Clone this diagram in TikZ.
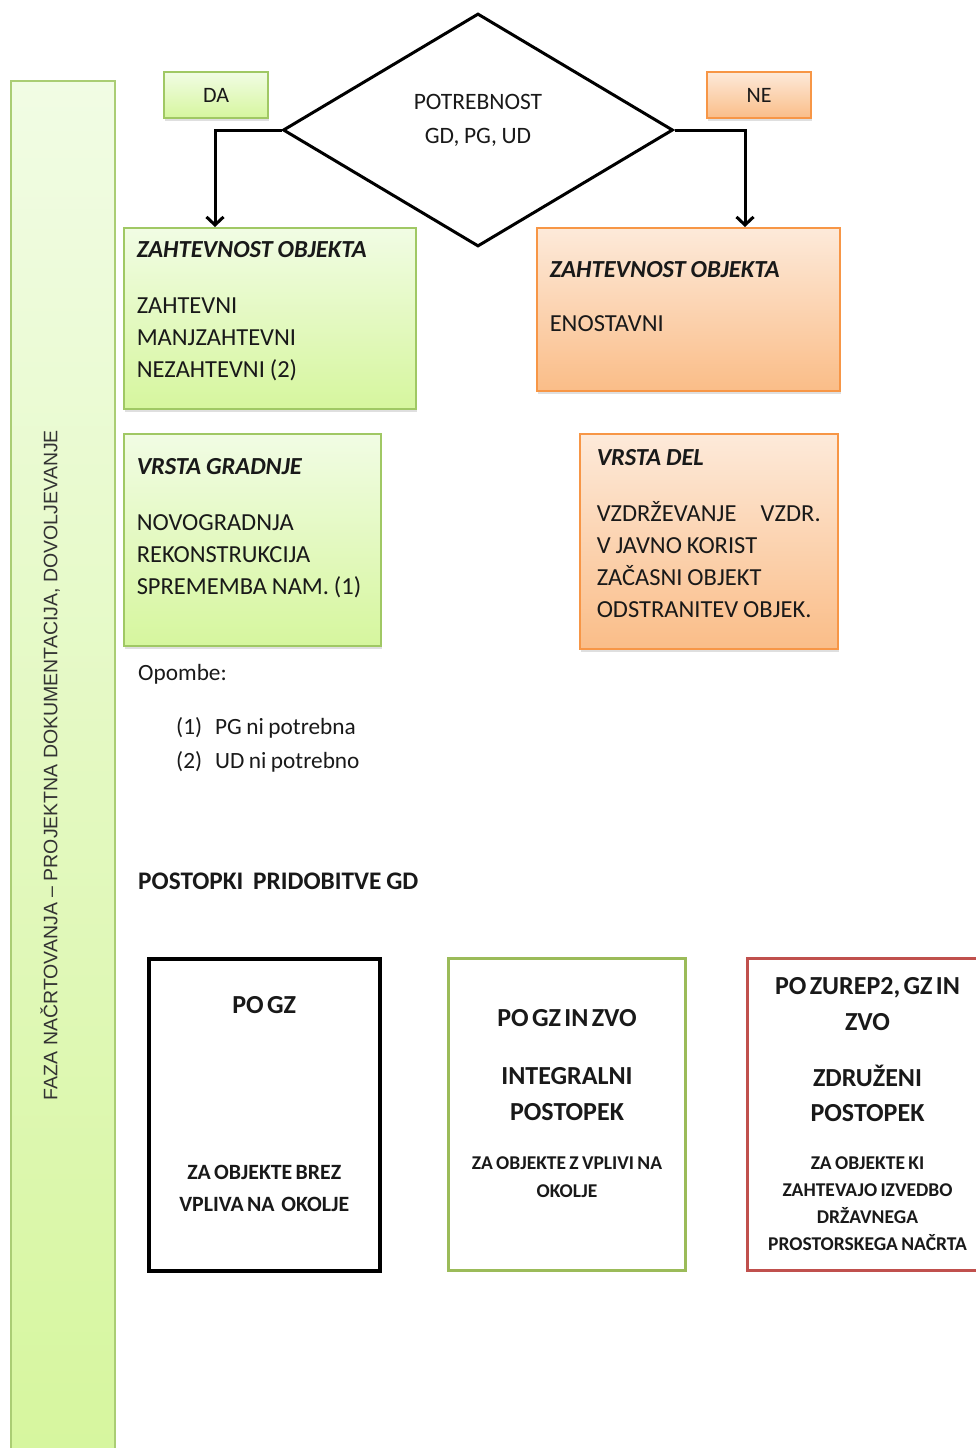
\documentclass[tikz,border=0pt]{standalone}
\usepackage{fontspec}
\setmainfont{Carlito}[WordSpace=0.85]
\newfontfamily\vertfont{Liberation Sans}
\usepackage{tikz}
\usetikzlibrary{shapes,shapes.geometric,arrows.meta,shadows}

\definecolor{zelenaZg}{RGB}{241,252,228}
\definecolor{zelenaSp}{RGB}{214,246,158}
\definecolor{zelenaRob}{RGB}{160,200,100}
\definecolor{oranznaZg}{RGB}{253,234,218}
\definecolor{oranznaSp}{RGB}{250,189,136}
\definecolor{oranznaRob}{RGB}{247,150,70}
\definecolor{rdecaRob}{RGB}{192,80,77}
\definecolor{zelenaOkvir}{RGB}{155,187,89}

\tikzstyle{senca}=[drop shadow={shadow xshift=1pt,shadow yshift=-3pt,opacity=.25}]
\tikzstyle{zeleno}=[rectangle,draw=zelenaRob,line width=1.5pt,
top color=zelenaZg,bottom color=zelenaSp,senca,text=black!90]
\tikzstyle{oranzno}=[rectangle,draw=oranznaRob,line width=1.5pt,
top color=oranznaZg,bottom color=oranznaSp,senca,text=black!90]
\tikzstyle{okvir}=[anchor=north west,inner xsep=13pt,inner ysep=0pt,align=left,
font=\fontsize{24.5}{32}\selectfont,execute at begin node={\spaceskip=.2em\relax}]
\tikzstyle{oznaka}=[minimum width=104pt,minimum height=46pt,inner sep=0pt,
font=\fontsize{22}{26}\selectfont]
\tikzstyle{romb}=[diamond,draw,line width=3pt,aspect=1.67,minimum width=390pt,
minimum height=233pt,inner sep=0pt,text width=200pt,align=center,
font=\fontsize{23.5}{34}\selectfont,text=black!90,execute at begin node={\spaceskip=.2em\relax}]
\tikzstyle{postopek}=[rectangle,anchor=north west,minimum height=312pt,inner xsep=4pt,
inner ysep=0pt,line width=3pt,fill=white,align=center,font=\bfseries,text=black!90]
\tikzstyle{besedilo}=[anchor=base west,inner sep=0pt,text=black!90]
\tikzstyle{puscica}=[->,>={Straight Barb[length=8pt,width=17pt]},line width=3pt]

\begin{document}
\begin{tikzpicture}[x=1pt,y=-1pt]
\useasboundingbox (0,0) rectangle (976,1448);

% stolpec s fazo
\node[zeleno,draw=zelenaRob!90,line width=1.5pt,minimum width=104pt,minimum height=1378pt,
drop shadow={opacity=0}] (S) at (63,770) {};
\node[rotate=90,font=\vertfont\fontsize{19.5}{20}\selectfont,text=black!80] (F) at (50,765)
{FAZA NAČRTOVANJA – PROJEKTNA DOKUMENTACIJA, DOVOLJEVANJE};

% odlocitev
\node[romb] (P) at (478,130) {POTREBNOST\\GD, PG, UD\rule[-22pt]{0pt}{0pt}};
\node[zeleno,oznaka] (DA) at (216,95) {DA};
\node[oranzno,oznaka] (NE) at (759,95) {NE};

% zahtevnost in vrsta
\node[zeleno,okvir,minimum width=292pt,minimum height=181pt,text width=266pt] (Z1) at (123,227)
{{\bfseries\itshape ZAHTEVNOST OBJEKTA}\\[24pt]ZAHTEVNI\\MANJZAHTEVNI\\NEZAHTEVNI (2)\rule[-18pt]{0pt}{0pt}};
\node[oranzno,okvir,minimum width=303pt,minimum height=163pt,text width=277pt] (Z2) at (536,227)
{{\bfseries\itshape ZAHTEVNOST OBJEKTA}\\[22pt]ENOSTAVNI\rule[-26pt]{0pt}{0pt}};
\node[zeleno,okvir,minimum width=257pt,minimum height=212pt,text width=231pt] (V1) at (123,433)
{{\bfseries\itshape VRSTA GRADNJE}\\[24pt]NOVOGRADNJA\\REKONSTRUKCIJA\\\mbox{SPREMEMBA NAM. (1)}\rule[-27pt]{0pt}{0pt}};
\node[oranzno,okvir,inner xsep=17pt,minimum width=258pt,minimum height=215pt,text width=224pt] (V2) at (579,433)
{{\bfseries\itshape VRSTA DEL}\\[24pt]VZDRŽEVANJE\hfill VZDR.\\V JAVNO KORIST\\ZAČASNI OBJEKT\\ODSTRANITEV OBJEK.\rule[-15pt]{0pt}{0pt}};

\draw[puscica] (P.west) -| ([xshift=92pt]Z1.north west);
\draw[puscica] (P.east) -| ([xshift=209pt]Z2.north west);

% opombe
\node[besedilo,font=\fontsize{23.3}{26}\selectfont] (O) at (138,680) {Opombe:};
\node[besedilo,font=\fontsize{23.3}{26}\selectfont] (O1) at (176,734) {\makebox[39pt][l]{(1)}PG ni potrebna};
\node[besedilo,font=\fontsize{23.3}{26}\selectfont] (O2) at (176,768) {\makebox[39pt][l]{(2)}UD ni potrebno};

% postopki
\node[besedilo,font=\bfseries\fontsize{25.3}{28}\selectfont] (G) at (138,889) {POSTOPKI\ \ PRIDOBITVE GD};

\node[postopek,draw=black,line width=3.5pt,minimum width=231pt,text width=223pt] (B1) at (147,957)
{{\fontsize{26}{26}\selectfont PO GZ\par}\vspace{134pt}%
{\fontsize{21.8}{32}\selectfont ZA OBJEKTE BREZ\\VPLIVA NA\ \ OKOLJE\rule[-22pt]{0pt}{0pt}\par}};
\node[postopek,draw=zelenaOkvir,minimum width=237pt,text width=229pt] (B2) at (447,957)
{{\fontsize{26}{36}\selectfont PO GZ IN ZVO\par}\vspace{22pt}%
{\fontsize{26}{36}\selectfont INTEGRALNI\\POSTOPEK\par}\vspace{21pt}%
{\fontsize{19.5}{28}\selectfont ZA OBJEKTE Z VPLIVI NA\\OKOLJE\rule[-22pt]{0pt}{0pt}\par}};
\node[postopek,draw=rdecaRob,minimum width=240pt,text width=232pt] (B3) at (746,957)
{{\fontsize{26}{36}\selectfont PO ZUREP2, GZ IN\\ZVO\par}\vspace{21pt}%
{\fontsize{26}{35}\selectfont ZDRUŽENI\\POSTOPEK\par}\vspace{21pt}%
{\fontsize{19.5}{27}\selectfont ZA OBJEKTE KI\\ZAHTEVAJO IZVEDBO\\DRŽAVNEGA\\PROSTORSKEGA NAČRTA\par}};
\end{tikzpicture}
\end{document}
